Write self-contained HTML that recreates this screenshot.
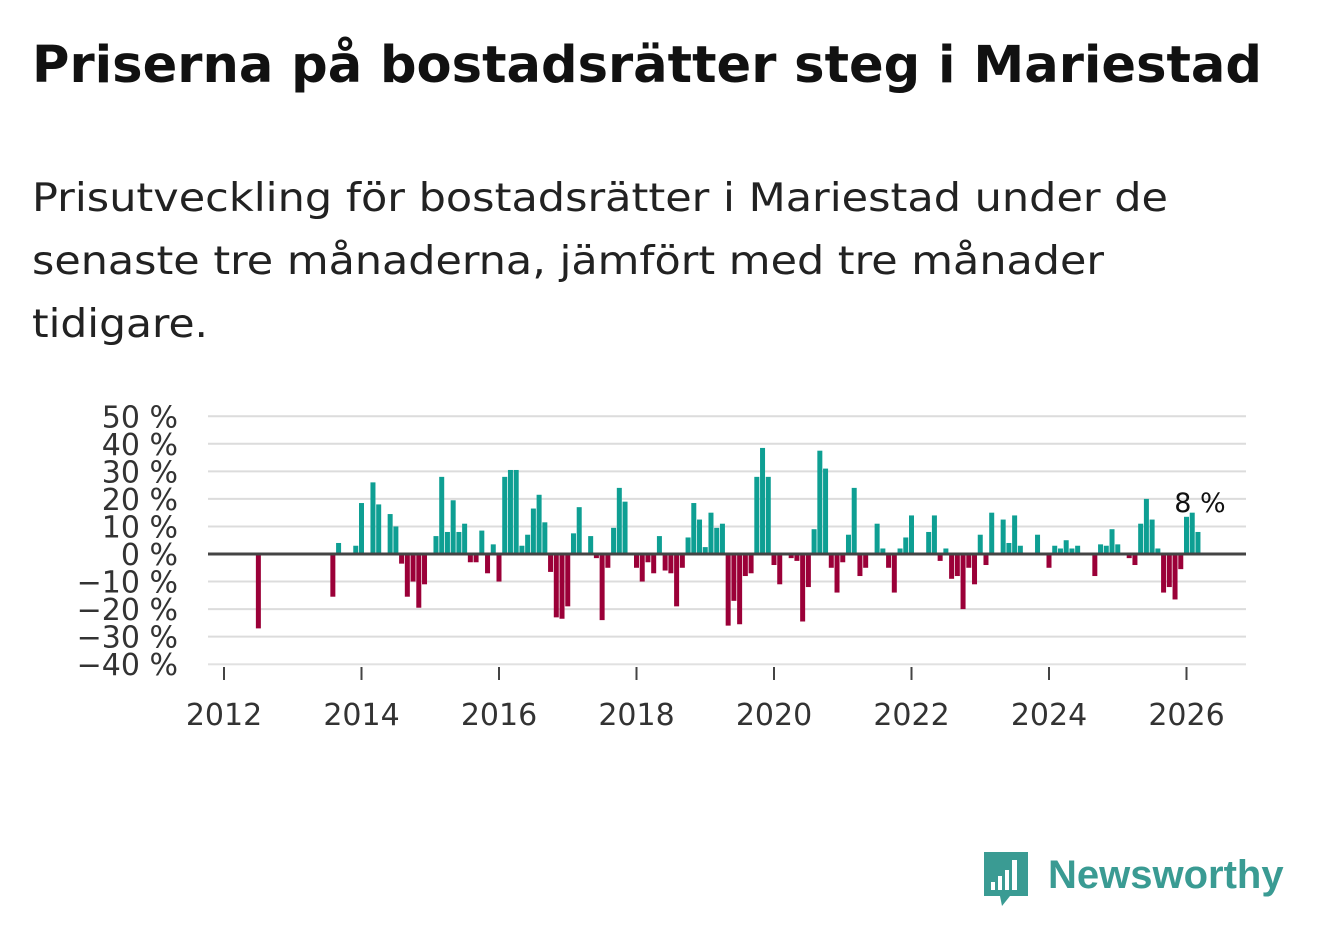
<!DOCTYPE html>
<html><head><meta charset="utf-8"><style>
body{margin:0;background:#fff;width:1322px;height:939px;overflow:hidden;font-family:"DejaVu Sans","Liberation Sans",sans-serif;}
.fit{position:absolute;left:32px;white-space:nowrap;transform-origin:0 0;margin:0}
#t{top:36px;font-size:51px;font-weight:bold;color:#111}
.s{font-size:39px;color:#222}
</style></head><body>
<div id="t" class="fit" data-target="1230">Priserna på bostadsrätter steg i Mariestad</div>
<div class="fit s" style="top:176px" data-target="1136">Prisutveckling för bostadsrätter i Mariestad under de</div>
<div class="fit s" style="top:239px" data-target="1072">senaste tre månaderna, jämfört med tre månader</div>
<div class="fit s" style="top:302px" data-target="176">tidigare.</div>
<svg id="chart" width="1322" height="939" style="position:absolute;left:0;top:0"></svg>
<script>
const startYear = 2012;
const monthIdx = [6,19,20,23,24,26,27,29,30,31,32,33,34,35,37,38,39,40,41,42,43,44,45,46,47,48,49,50,51,52,53,54,55,56,57,58,59,60,61,62,64,65,66,67,68,69,70,71,72,73,74,75,76,77,78,79,80,81,82,83,84,85,86,87,88,89,90,91,92,93,94,95,96,97,99,100,101,102,103,104,105,106,107,108,109,110,111,112,113,114,115,116,117,118,119,120,121,122,123,124,125,126,127,128,129,130,131,132,133,134,136,137,138,139,140,142,143,144,145,146,147,148,149,150,152,153,154,155,156,157,158,159,160,161,162,163,164,165,166,167,168,169,170];
const values = [-27,-15.5,4,3,18.5,26,18,14.5,10,-3.5,-15.5,-10,-19.5,-11,6.5,28,8,19.5,8,11,-3,-3,8.5,-7,3.5,-10,28,30.5,30.5,3,7,16.5,21.5,11.5,-6.5,-23,-23.5,-19,7.5,17,6.5,-1.5,-24,-5,9.5,24,19,0.5,-5,-10,-3,-7,6.5,-6,-7,-19,-5,6,18.5,12.5,2.5,15,9.5,11,-26,-17,-25.5,-8,-7,28,38.5,28,-4,-11,-1.5,-2.5,-24.5,-12,9,37.5,31,-5,-14,-3,7,24,-8,-5,-0.5,11,2,-5,-14,2,6,14,-0.5,-0.5,8,14,-2.5,2,-9,-8,-20,-5,-11,7,-4,15,12.5,4,14,3,0.5,7,0.5,-5,3,2,5,2,3,0.5,-8,3.5,3,9,3.5,0.5,-1.5,-4,11,20,12.5,2,-14,-12,-16.5,-5.5,13.5,15,8];
const yTicks = [50,40,30,20,10,0,-10,-20,-30,-40];
const xTicks = [2012,2014,2016,2018,2020,2022,2024,2026];
const lastLabel = "8 %";

document.querySelectorAll('.fit').forEach(el=>{
  const w=el.getBoundingClientRect().width;
  el.style.transform='scaleX('+(parseFloat(el.dataset.target)/w)+')';
});

const svg = document.getElementById('chart');
const NS = 'http://www.w3.org/2000/svg';
const x0 = 224, pxPerYear = 68.75;
const xScale = m => x0 + m * pxPerYear / 12;
const yScale = v => 554 - v * 2.755;
function mk(tag, attrs){const e=document.createElementNS(NS,tag);for(const k in attrs)e.setAttribute(k,attrs[k]);svg.appendChild(e);return e;}
yTicks.forEach(t=>{
  if(t!==0){const g=mk('line',{x1:208,x2:1246,y1:yScale(t),y2:yScale(t),stroke:'#dcdcdc','stroke-width':2});
  
  }
  const l=mk('text',{x:178,y:yScale(t)+11,'text-anchor':'end','font-size':30,fill:'#333','font-family':'DejaVu Sans, sans-serif'});
  l.textContent=(t<0?'\u2212'+(-t):t)+' %';
  
  
});
mk('line',{x1:208,x2:1246,y1:664,y2:664,stroke:'#e6e6e6','stroke-width':1});
xTicks.forEach(yr=>{
  const x=xScale((yr-startYear)*12);
  const tk=mk('line',{x1:x,x2:x,y1:667,y2:680,stroke:'#444','stroke-width':2});
  
  
  const l=mk('text',{x:x,y:725,'text-anchor':'middle','font-size':30,fill:'#333','font-family':'DejaVu Sans, sans-serif'});
  l.textContent=yr;
  
  
});
monthIdx.forEach((m,i)=>{
  const v=values[i];const x=xScale(m);
  const y=v>=0?yScale(v):yScale(0);const h=Math.abs(yScale(v)-yScale(0));
  const b=mk('rect',{x:x-2.5,y:y,width:5,height:h,fill:v>=0?'#0e9f93':'#9b0038'});
  
  
});
const z=mk('line',{x1:208,x2:1246,y1:554,y2:554,stroke:'#444','stroke-width':3});


const lastI=monthIdx.length-1;
const lb=mk('text',{x:xScale(monthIdx[lastI])+2,y:512,'text-anchor':'middle','font-size':27,fill:'#111','font-family':'DejaVu Sans, sans-serif'});
lb.textContent=lastLabel;


</script>
<svg width="320" height="70" style="position:absolute;left:978px;top:846px">
  <path d="M6 6 H50 V50 H32 L24 60 L22 50 H6 Z" fill="#3a9b93"/>
  <rect x="13" y="36" width="4" height="8" fill="#fff"/><rect x="20" y="30" width="4" height="14" fill="#fff"/>
  <rect x="27" y="24" width="4" height="20" fill="#fff"/><rect x="34" y="14" width="5" height="30" fill="#fff"/>
  <text x="70" y="42" font-size="40" font-weight="bold" fill="#3a9b93" font-family="Liberation Sans, sans-serif">Newsworthy</text>
</svg>
</body></html>
